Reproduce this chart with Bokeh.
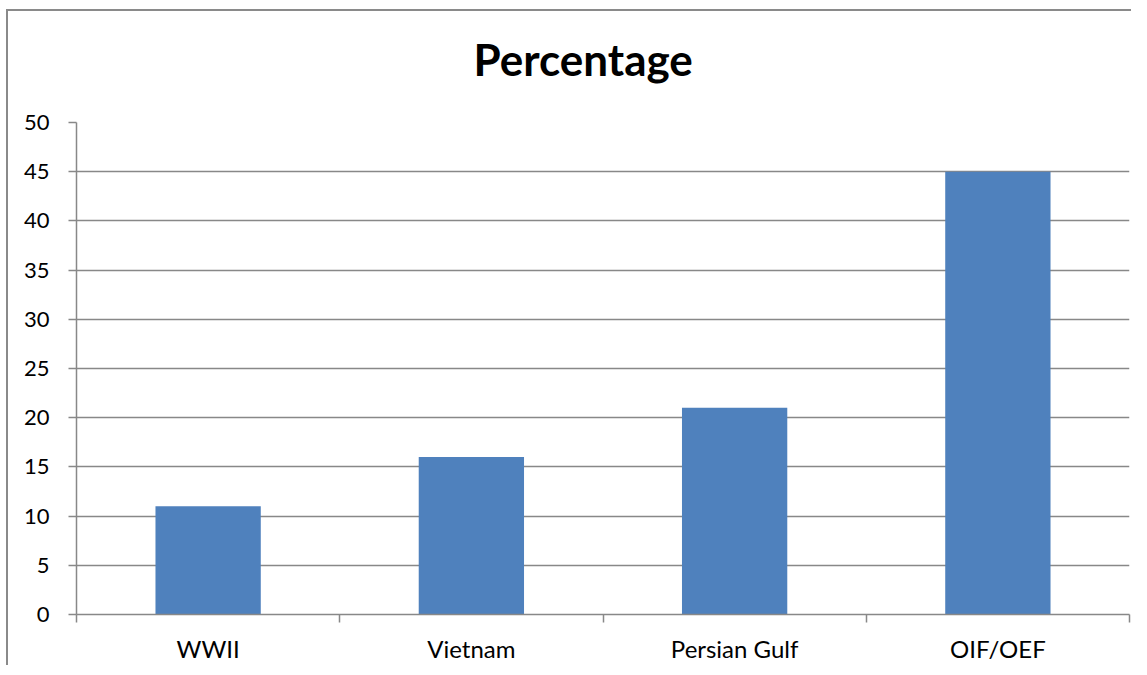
from bokeh.plotting import figure
from bokeh.models import Range1d, FixedTicker, ColumnDataSource, Title, Spacer
from bokeh.layouts import column, row
from bokeh.embed import file_html
from bokeh.resources import INLINE

title_text = "Percentage"
categories = ["WWII", "Vietnam", "Persian Gulf", "OIF/OEF"]
values = [11, 16, 21, 45]
y_ticks = [0, 5, 10, 15, 20, 25, 30, 35, 40, 45, 50]

centers = [i + 0.5 for i in range(len(categories))]
src = ColumnDataSource(data=dict(x=centers, top=values, cat=categories))

GRID = "#888888"
EDGE = "#8a8a8a"
W, H = 1123, 654

p = figure(width=W, height=H, output_backend="svg", toolbar_location=None,
           x_range=Range1d(0, len(categories)), y_range=Range1d(0, 50),
           min_border_left=68, min_border_right=2, min_border_top=111,
           min_border_bottom=51)
p.outline_line_color = None
p.background_fill_color = "white"
p.border_fill_color = "white"

# spacer between frame and title (first item in "above" sits nearest the frame)
gap = Title(text=" ", text_font_size="1px", standoff=16)
p.add_layout(gap, "above")
main_title = Title(text=title_text, text_font="Lato", text_font_style="bold",
                   text_font_size="44px", text_color="black",
                   align="left", offset=397, standoff=37)
p.add_layout(main_title, "above")

p.vbar(x="x", top="top", bottom=0, width=0.4, source=src,
       fill_color="#4F81BD", line_color=None)

# x axis
p.xaxis.ticker = FixedTicker(ticks=centers, minor_ticks=list(range(len(categories) + 1)))
p.xaxis.major_label_overrides = {c: n for c, n in zip(centers, categories)}
p.xaxis.major_tick_out = 0
p.xaxis.major_tick_in = 0
p.xaxis.minor_tick_out = 8
p.xaxis.minor_tick_in = 0
p.xaxis.minor_tick_line_color = GRID
p.xaxis.axis_line_color = GRID
p.xaxis.axis_line_width = 1.5
p.xaxis.minor_tick_line_width = 1.5
p.xaxis.major_label_text_font = "Lato"
p.xaxis.major_label_text_font_size = "24px"
p.xaxis.major_label_text_color = "black"
p.xaxis.major_label_standoff = 11
p.xgrid.grid_line_color = None

# y axis
p.yaxis.ticker = FixedTicker(ticks=y_ticks)
p.yaxis.major_tick_out = 8
p.yaxis.major_tick_in = 0
p.yaxis.minor_tick_line_color = None
p.yaxis.major_tick_line_color = GRID
p.yaxis.major_tick_line_width = 1.5
p.yaxis.axis_line_color = GRID
p.yaxis.axis_line_width = 1.5
p.yaxis.major_label_text_font = "Lato"
p.yaxis.major_label_text_font_size = "22px"
p.yaxis.major_label_text_color = "black"
p.yaxis.major_label_standoff = 19
p.ygrid.ticker = FixedTicker(ticks=y_ticks)
p.ygrid.grid_line_color = GRID
p.ygrid.grid_line_width = 1.5

# chart-area border (left and top edges) built from coloured spacers
top_edge = Spacer(width=W + 2, height=2, styles={"background-color": EDGE})
left_edge = Spacer(width=2, height=H, styles={"background-color": EDGE})
chart = column(top_edge, row(left_edge, p))

layout = column(Spacer(height=9), row(Spacer(width=6), chart))

open("out.html", "w").write(file_html(layout, INLINE))
